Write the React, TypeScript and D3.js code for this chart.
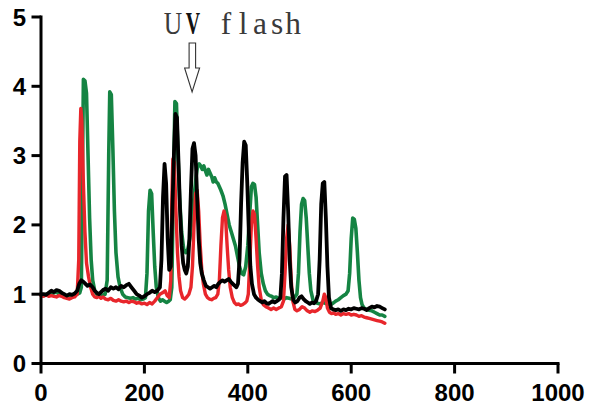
import React from "react";
import * as d3 from "d3";

type Pt = [number, number];

const xTicks = [0, 200, 400, 600, 800, 1000];
const yTicks = [0, 1, 2, 3, 4, 5];
const uvFlashX = 300;
const annotationChars = ["U", "V", " ", "f", "l", "a", "s", "h"];

const greenSeries: Pt[] = [
  [0,1.0],[5,0.98],[10,1.0],[15,1.01],[20,0.99],[25,1.02],[30,1.03],[35,1.0],[40,1.02],[45,0.99],[50,0.97],[55,0.98],[60,0.97],[65,0.99],[70,1.0],[75,1.02],[78,1.1],[80,2.6],[82,4.1],[85,4.08],[88,3.9],[91,3.0],[94,2.1],[97,1.5],[100,1.2],[104,1.05],[108,1.0],[112,0.98],[116,0.97],[120,0.99],[124,1.0],[128,1.2],[131,3.0],[133,3.92],[136,3.88],[139,3.1],[142,2.2],[145,1.6],[149,1.25],[153,1.1],[158,1.0],[163,0.96],[168,0.95],[173,0.94],[178,0.95],[183,0.93],[188,0.94],[193,0.92],[198,0.93],[202,0.95],[205,1.3],[208,2.2],[211,2.5],[214,2.45],[217,1.9],[220,1.4],[223,1.1],[227,0.95],[231,0.9],[235,0.92],[239,0.9],[243,0.88],[247,0.9],[250,0.92],[253,1.1],[256,2.5],[259,3.78],[262,3.75],[265,3.0],[268,2.4],[272,1.9],[276,1.65],[280,1.6],[284,1.65],[288,1.8],[292,2.1],[296,2.4],[300,2.7],[303,2.85],[306,2.88],[309,2.85],[312,2.8],[315,2.85],[318,2.78],[321,2.72],[324,2.8],[327,2.75],[330,2.7],[333,2.62],[336,2.68],[339,2.62],[342,2.6],[345,2.55],[348,2.5],[352,2.42],[356,2.3],[360,2.15],[364,2.0],[368,1.9],[372,1.8],[376,1.7],[380,1.55],[384,1.4],[388,1.3],[392,1.28],[396,1.4],[400,1.7],[404,2.2],[407,2.55],[410,2.6],[413,2.58],[416,2.4],[419,2.0],[422,1.6],[426,1.3],[430,1.15],[434,1.05],[438,1.0],[442,0.98],[446,0.97],[450,0.95],[455,0.96],[460,0.94],[465,0.95],[470,0.93],[475,0.95],[480,0.94],[485,0.93],[490,0.95],[495,1.0],[498,1.3],[501,1.9],[504,2.3],[507,2.38],[510,2.35],[513,2.1],[516,1.7],[519,1.3],[522,1.05],[526,0.92],[530,0.88],[535,0.87],[540,0.86],[545,0.88],[550,0.87],[555,0.86],[560,0.85],[565,0.87],[570,0.9],[575,0.92],[580,0.95],[585,0.98],[590,1.0],[594,1.05],[597,1.3],[600,1.8],[603,2.1],[606,2.08],[609,1.95],[612,1.6],[615,1.2],[618,0.95],[621,0.85],[625,0.8],[630,0.78],[635,0.77],[640,0.76],[645,0.74],[650,0.72],[655,0.7],[660,0.7],[665,0.68]
];

const redSeries: Pt[] = [
  [0,0.98],[5,0.97],[10,0.99],[15,0.97],[20,0.98],[25,0.97],[30,0.96],[35,0.98],[40,0.97],[45,0.95],[50,0.94],[55,0.93],[60,0.95],[65,0.96],[70,1.0],[73,1.5],[75,3.2],[77,3.68],[79,3.5],[82,2.6],[85,1.9],[88,1.45],[92,1.25],[96,1.1],[100,1.0],[104,0.96],[108,0.95],[112,0.97],[116,0.94],[120,0.96],[125,0.93],[130,0.92],[135,0.94],[140,0.91],[145,0.9],[150,0.92],[155,0.9],[160,0.89],[165,0.9],[170,0.88],[175,0.9],[180,0.89],[185,0.87],[190,0.88],[195,0.86],[200,0.87],[205,0.85],[210,0.88],[215,0.86],[220,0.9],[225,0.95],[230,1.0],[235,1.02],[240,1.05],[244,0.98],[248,0.95],[251,1.2],[253,2.3],[255,2.95],[258,2.9],[261,2.2],[264,1.6],[267,1.25],[270,1.05],[274,0.95],[278,0.93],[282,0.96],[286,1.0],[290,1.1],[293,1.4],[296,2.0],[299,2.45],[302,2.5],[305,2.2],[308,1.7],[311,1.35],[314,1.15],[318,1.0],[322,0.95],[326,0.93],[330,0.92],[334,0.94],[338,0.95],[342,1.0],[345,1.2],[348,1.7],[351,2.1],[354,2.2],[357,2.1],[360,1.7],[363,1.35],[366,1.1],[370,0.95],[374,0.88],[378,0.85],[382,0.86],[386,0.84],[390,0.85],[394,0.87],[398,0.9],[401,1.0],[404,1.5],[407,2.0],[410,2.2],[413,2.15],[416,1.8],[419,1.4],[422,1.1],[426,0.92],[430,0.85],[435,0.82],[440,0.8],[445,0.78],[450,0.8],[455,0.78],[460,0.8],[465,0.82],[469,0.9],[472,1.3],[475,1.8],[478,2.0],[481,1.7],[484,1.2],[487,0.9],[491,0.78],[495,0.76],[500,0.78],[505,0.82],[510,0.8],[515,0.76],[520,0.74],[525,0.76],[530,0.75],[535,0.77],[540,0.8],[545,0.9],[548,1.0],[551,0.95],[554,0.8],[558,0.74],[562,0.72],[566,0.73],[570,0.71],[575,0.72],[580,0.7],[585,0.72],[590,0.71],[595,0.72],[600,0.7],[605,0.71],[610,0.7],[615,0.68],[620,0.69],[625,0.67],[630,0.66],[635,0.65],[640,0.64],[645,0.63],[650,0.62],[655,0.61],[660,0.6],[665,0.58]
];

const blackSeries: Pt[] = [
  [0,1.0],[5,1.0],[10,0.99],[15,1.02],[20,1.05],[25,1.03],[30,1.06],[35,1.05],[40,1.02],[45,1.0],[50,0.98],[55,1.0],[60,0.99],[65,1.01],[70,1.05],[74,1.15],[78,1.2],[82,1.18],[86,1.15],[90,1.12],[95,1.14],[100,1.1],[104,1.05],[108,1.02],[112,1.0],[116,1.03],[120,1.06],[125,1.08],[130,1.05],[135,1.1],[140,1.08],[145,1.1],[150,1.07],[155,1.12],[160,1.1],[165,1.13],[170,1.15],[175,1.1],[180,1.05],[185,1.0],[190,0.98],[195,0.95],[200,0.97],[205,1.0],[210,1.02],[215,1.05],[220,1.03],[225,1.05],[230,1.1],[233,1.5],[236,2.4],[239,2.88],[242,2.6],[245,1.8],[248,1.35],[251,1.4],[254,2.2],[257,3.0],[260,3.6],[263,3.55],[266,2.9],[269,2.2],[272,1.7],[275,1.45],[278,1.35],[281,1.3],[284,1.4],[287,1.8],[290,2.5],[293,3.1],[296,3.18],[299,3.0],[302,2.4],[305,1.8],[308,1.45],[311,1.3],[315,1.2],[319,1.12],[323,1.1],[327,1.08],[331,1.1],[335,1.12],[339,1.1],[343,1.15],[347,1.18],[351,1.2],[355,1.18],[359,1.2],[363,1.22],[367,1.18],[371,1.15],[375,1.12],[378,1.1],[381,1.15],[384,1.5],[387,2.3],[390,2.9],[393,3.2],[396,3.15],[399,2.6],[402,1.9],[405,1.4],[408,1.15],[412,1.0],[416,0.95],[420,0.92],[424,0.9],[428,0.88],[432,0.9],[436,0.87],[440,0.86],[444,0.88],[448,0.9],[452,0.88],[456,0.9],[460,0.92],[463,0.95],[466,1.3],[469,2.1],[472,2.7],[475,2.72],[478,2.2],[481,1.5],[484,1.1],[488,0.92],[492,0.88],[496,0.9],[500,0.95],[504,0.97],[508,0.93],[512,0.9],[516,0.88],[520,0.86],[524,0.88],[528,0.87],[532,0.9],[536,1.0],[539,1.5],[542,2.3],[545,2.6],[548,2.62],[551,2.1],[554,1.4],[557,0.95],[561,0.8],[565,0.78],[570,0.77],[575,0.78],[580,0.76],[585,0.78],[590,0.77],[595,0.79],[600,0.78],[605,0.8],[610,0.79],[615,0.78],[620,0.8],[625,0.79],[630,0.77],[635,0.8],[640,0.82],[645,0.81],[650,0.83],[655,0.82],[660,0.8],[665,0.78]
];

const W = 589;
const H = 408;

export default function App() {
  const x = d3.scaleLinear().domain([0, 1000]).range([41, 558]);
  const y = d3.scaleLinear().domain([0, 5]).range([363.5, 17]);
  const line = d3
    .line<Pt>()
    .x((d) => x(d[0]))
    .y((d) => y(d[1]));

  const series = [
    { data: greenSeries, color: "#158443", w: 3.6 },
    { data: redSeries, color: "#e8262b", w: 3.4 },
    { data: blackSeries, color: "#000000", w: 3.8 },
  ];

  const ax = x(uvFlashX) - 4;
  const charX = [173, 193, 209, 226, 243, 260, 277, 293];
  const font = "'Liberation Sans', Arial, sans-serif";
  const scaleFor = (c: string) => (c === "V" ? 0.62 : c === "U" ? 0.8 : 0.98);

  return (
    <svg
      width={W}
      height={H}
      style={{ position: "absolute", left: 0, top: 0, background: "#fff" }}
    >
      <rect x={0} y={0} width={W} height={H} fill="#fff" />
      {series.map((s, i) => (
        <path
          key={i}
          d={line(s.data) || ""}
          fill="none"
          stroke={s.color}
          strokeWidth={s.w}
          strokeLinejoin="round"
          strokeLinecap="round"
        />
      ))}
      {/* axes */}
      <line x1={x(0)} x2={x(0)} y1={y(0)} y2={y(5) - 1.5} stroke="#000" strokeWidth={3} />
      <line x1={x(0) - 1.5} x2={x(1000) + 1.5} y1={y(0)} y2={y(0)} stroke="#000" strokeWidth={3} />
      {yTicks.map((t) => (
        <g key={"y" + t}>
          <line x1={x(0) - 9.5} x2={x(0)} y1={y(t)} y2={y(t)} stroke="#000" strokeWidth={3} />
          <text
            x={26}
            y={y(t) + 8.5}
            textAnchor="end"
            fontFamily={font}
            fontWeight="bold"
            fontSize={24}
            fill="#000"
          >
            {t}
          </text>
        </g>
      ))}
      {xTicks.map((t) => (
        <g key={"x" + t}>
          <line x1={x(t)} x2={x(t)} y1={y(0)} y2={y(0) + 10} stroke="#000" strokeWidth={3} />
          <text
            x={x(t)}
            y={400.5}
            textAnchor="middle"
            fontFamily={font}
            fontWeight="bold"
            fontSize={24}
            fill="#000"
          >
            {t}
          </text>
        </g>
      ))}
      {/* annotation */}
      {annotationChars.map((c, i) =>
        c === " " ? null : (
          <text
            key={i}
            transform={`translate(${charX[i]},34) scale(${scaleFor(c)},1)`}
            textAnchor="middle"
            fontFamily="'Liberation Serif', 'DejaVu Serif', serif"
            fontSize={32}
            fontWeight={c === "V" ? "bold" : "normal"}
            fill={c === "V" ? "#111" : "#3a3a3a"}
          >
            {c}
          </text>
        )
      )}
      <path
        d={`M${ax - 3},43 L${ax + 3.5},43 L${ax + 3.5},68 L${ax + 7.5},68 L${ax},92 L${ax - 7.5},68 L${ax - 3},68 Z`}
        fill="#fff"
        stroke="#333"
        strokeWidth={1.1}
        strokeLinejoin="miter"
      />
    </svg>
  );
}
